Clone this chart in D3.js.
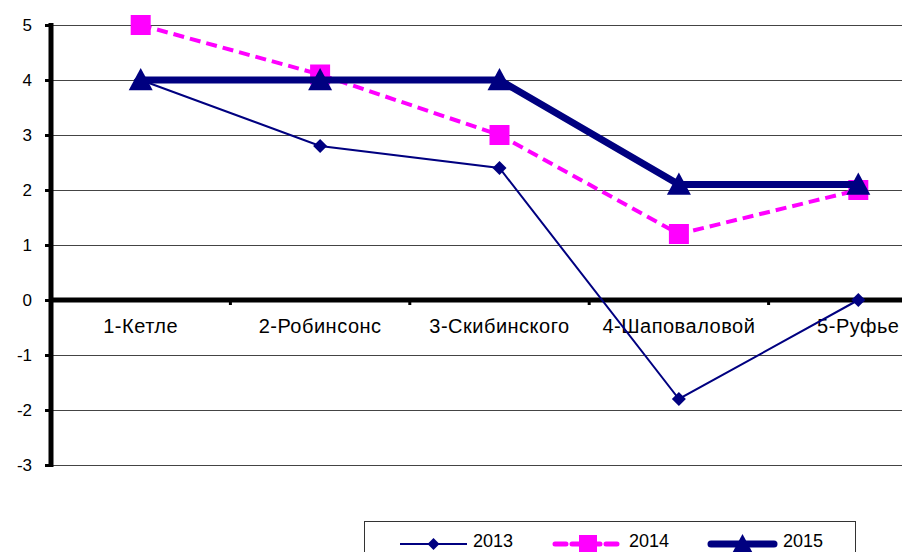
<!DOCTYPE html>
<html><head><meta charset="utf-8">
<script src="https://cdn.jsdelivr.net/npm/d3@7"></script>
<style>
html,body{margin:0;padding:0;background:#fff;overflow:hidden}
svg{display:block;font-family:"Liberation Sans",Arial,sans-serif}
</style></head>
<body>
<svg id="chart" width="902" height="552"></svg>
<script>
const categories = ["1-Кетле", "2-Робинсонс", "3-Скибинского", "4-Шаповаловой", "5-Руфье"];
const seriesNames = ["2013", "2014", "2015"];
const values2013 = [4, 2.8, 2.4, -1.8, 0];
const values2014 = [5, 4.1, 3, 1.2, 2];
const values2015 = [4, 4, 4, 2.1, 2.1];
const yTicks = [-3, -2, -1, 0, 1, 2, 3, 4, 5];

const svg = d3.select("#chart");
const W = 902;
const x = d3.scaleBand().domain(categories).range([51, 51 + 5 * 179.4]);
const y = d3.scaleLinear().domain([-3, 5]).range([465, 25]);
const cx = c => x(c) + x.bandwidth() / 2;

// gridlines
svg.append("g").selectAll("line").data(yTicks.filter(t => t !== 0)).join("line")
  .attr("x1", 51).attr("x2", W)
  .attr("y1", d => Math.round(y(d)) + 0.5).attr("y2", d => Math.round(y(d)) + 0.5)
  .attr("stroke", "#444").attr("stroke-width", 1);

// y axis
const yAxis = d3.axisLeft(y).tickValues(yTicks).tickSize(6).tickPadding(13)
  .tickFormat(d => String(d).replace("\u2212", "-"));
const gy = svg.append("g").attr("transform", "translate(51,0)").call(yAxis);
gy.select(".domain").remove();
gy.selectAll(".tick line").attr("stroke", "#000").attr("stroke-width", 3);
gy.selectAll(".tick text").attr("font-size", 17).attr("fill", "#000")
  .attr("font-family", "Liberation Sans, Arial, sans-serif");
svg.append("line").attr("x1", 51).attr("x2", 51).attr("y1", 23).attr("y2", 467)
  .attr("stroke", "#000").attr("stroke-width", 5);

// zero line + category ticks
const y0 = y(0);
svg.append("line").attr("x1", 49).attr("x2", W).attr("y1", y0).attr("y2", y0)
  .attr("stroke", "#000").attr("stroke-width", 5);
svg.append("g").selectAll("line").data(categories.slice(1)).join("line")
  .attr("x1", d => x(d)).attr("x2", d => x(d))
  .attr("y1", y0).attr("y2", y0 + 5)
  .attr("stroke", "#000").attr("stroke-width", 3);

// category labels
svg.append("g").selectAll("text").data(categories).join("text")
  .attr("x", d => cx(d)).attr("y", y0 + 33)
  .attr("text-anchor", "middle").attr("font-size", 20).attr("letter-spacing", 0.5).attr("fill", "#000")
  .text(d => d);

// series
const line = d3.line().x((d, i) => cx(categories[i])).y(d => y(d));
const navy = "#000080", mag = "#ff00ff";

function diamond(g, px, py, s) {
  g.append("path").attr("d", `M${px},${py - s}L${px + s},${py}L${px},${py + s}L${px - s},${py}Z`).attr("fill", navy);
}
function square(g, px, py, s) {
  g.append("rect").attr("x", px - s).attr("y", py - s).attr("width", 2 * s).attr("height", 2 * s).attr("fill", mag);
}
function triangle(g, px, py, s) {
  g.append("path").attr("d", `M${px},${py - s}L${px + s},${py + s * 0.85}L${px - s},${py + s * 0.85}Z`).attr("fill", navy);
}

const g13 = svg.append("g");
g13.append("path").datum(values2013).attr("d", line).attr("fill", "none").attr("stroke", navy).attr("stroke-width", 2);
values2013.forEach((v, i) => diamond(g13, cx(categories[i]), y(v), 7));

const g14 = svg.append("g");
g14.append("path").datum(values2014).attr("d", line).attr("fill", "none").attr("stroke", mag).attr("stroke-width", 4).attr("stroke-dasharray", "11,6");
values2014.forEach((v, i) => square(g14, cx(categories[i]), y(v), 10));

const g15 = svg.append("g");
g15.append("path").datum(values2015).attr("d", line).attr("fill", "none").attr("stroke", navy).attr("stroke-width", 7);
values2015.forEach((v, i) => triangle(g15, cx(categories[i]), y(v), 12));

// legend
const lg = svg.append("g");
lg.append("rect").attr("x", 364.5).attr("y", 521.5).attr("width", 491).attr("height", 60)
  .attr("fill", "#fff").attr("stroke", "#333").attr("stroke-width", 1);
const ly = 544;
const legendItems = [
  {name: seriesNames[0], x1: 400, x2: 467, tx: 473},
  {name: seriesNames[1], x1: 553, x2: 623, tx: 629},
  {name: seriesNames[2], x1: 708, x2: 777, tx: 783}
];
lg.append("line").attr("x1", legendItems[0].x1).attr("x2", legendItems[0].x2).attr("y1", ly).attr("y2", ly).attr("stroke", navy).attr("stroke-width", 2);
diamond(lg, (legendItems[0].x1 + legendItems[0].x2) / 2, ly, 6);
lg.append("line").attr("x1", legendItems[1].x1 + 2).attr("x2", legendItems[1].x2).attr("y1", ly).attr("y2", ly).attr("stroke", mag).attr("stroke-width", 5).attr("stroke-dasharray", "11,6").attr("stroke-linecap", "round");
square(lg, (legendItems[1].x1 + legendItems[1].x2) / 2, ly, 9);
lg.append("line").attr("x1", legendItems[2].x1 + 3).attr("x2", legendItems[2].x2 - 3).attr("y1", ly).attr("y2", ly).attr("stroke", navy).attr("stroke-width", 7).attr("stroke-linecap", "round");
triangle(lg, (legendItems[2].x1 + legendItems[2].x2) / 2, ly, 10);
lg.selectAll("text").data(legendItems).join("text")
  .attr("x", d => d.tx).attr("y", 547).attr("font-size", 18).attr("fill", "#000")
  .text(d => d.name);
</script>
</body></html>
